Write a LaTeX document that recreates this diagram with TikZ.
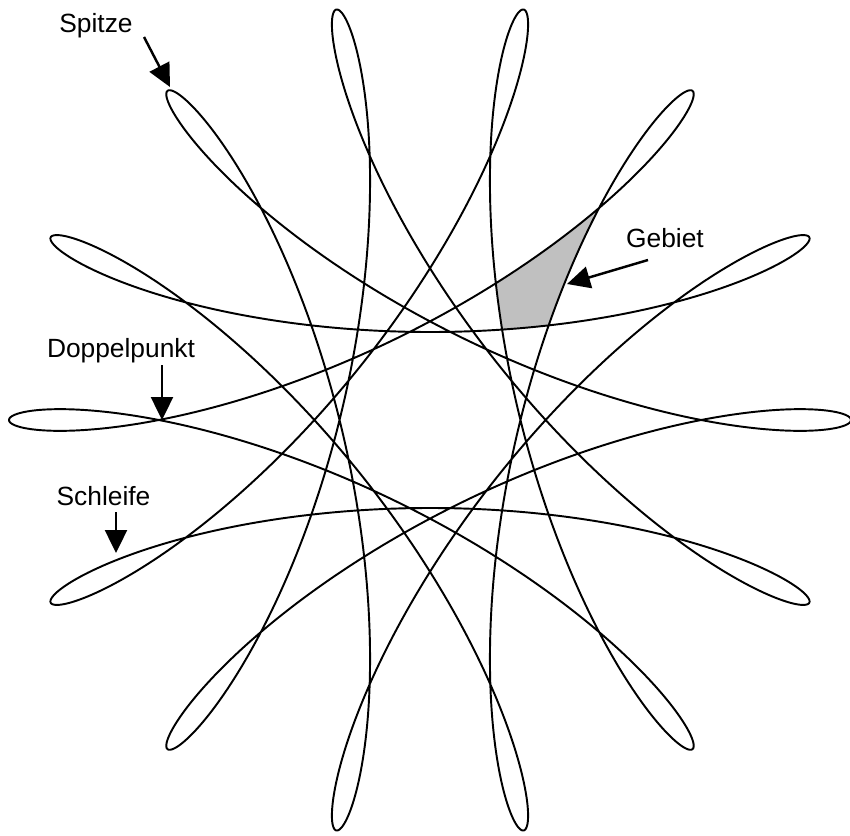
\documentclass[tikz,border=0pt]{standalone}
\usepackage{fontspec}
\setmainfont{Liberation Sans}
\usetikzlibrary{arrows.meta}
\tikzset{
  curve/.style={line width=1.1pt, black},
  lbl/.style={font=\fontsize{15}{18}\selectfont, inner sep=0pt, anchor=base},
  pointer/.style={line width=1.4pt, -{Triangle[length=0.46cm,width=0.44cm]}},
}
\definecolor{regiongray}{RGB}{192,192,192}
\begin{document}
\begin{tikzpicture}[x=0.02cm,y=-0.02cm]
\useasboundingbox (0,0) rectangle (850,836);
\begin{scope}[shift={(430,420)}, yscale=-1]
  % shaded region "Gebiet", bounded by four pieces of the curve
  \fill[regiongray]
    plot[domain=88.5:87.5, samples=12, variable=\t]
      ({254.5*cos(5*\t)+166.5*cos(9*\t)}, {254.5*sin(5*\t)-166.5*sin(9*\t)})
    -- plot[domain=143.93:146.94, samples=20, variable=\t]
      ({254.5*cos(5*\t)+166.5*cos(9*\t)}, {254.5*sin(5*\t)-166.5*sin(9*\t)})
    -- plot[domain=161.63:164.64, samples=20, variable=\t]
      ({254.5*cos(5*\t)+166.5*cos(9*\t)}, {254.5*sin(5*\t)-166.5*sin(9*\t)})
    -- plot[domain=221.07:220.07, samples=12, variable=\t]
      ({254.5*cos(5*\t)+166.5*cos(9*\t)}, {254.5*sin(5*\t)-166.5*sin(9*\t)})
    -- cycle;
  % the curve
  \draw[curve] plot[domain=0:360, samples=2881, variable=\t]
     ({254.5*cos(5*\t)+166.5*cos(9*\t)}, {254.5*sin(5*\t)-166.5*sin(9*\t)}) -- cycle;
\end{scope}
% labels
\node[lbl] (spitze) at (96,32) {Spitze};
\node[lbl] (doppel) at (121,357) {Doppelpunkt};
\node[lbl] (schleife) at (103.5,505) {Schleife};
\node[lbl] (gebiet) at (665,247) {Gebiet};
% arrows
\coordinate (spitzeTail) at (144,37);
\coordinate (spitzeTip) at (170,87);
\coordinate (doppelTail) at (162,365);
\coordinate (doppelTip) at (162,420);
\coordinate (schleifeTail) at (116,512);
\coordinate (schleifeTip) at (116,553);
\coordinate (gebietTail) at (648,260);
\coordinate (gebietTip) at (567,284);
\draw[pointer] (spitzeTail) -- (spitzeTip);
\draw[pointer] (doppelTail) -- (doppelTip);
\draw[pointer] (schleifeTail) -- (schleifeTip);
\draw[pointer] (gebietTail) -- (gebietTip);
\end{tikzpicture}
\end{document}
